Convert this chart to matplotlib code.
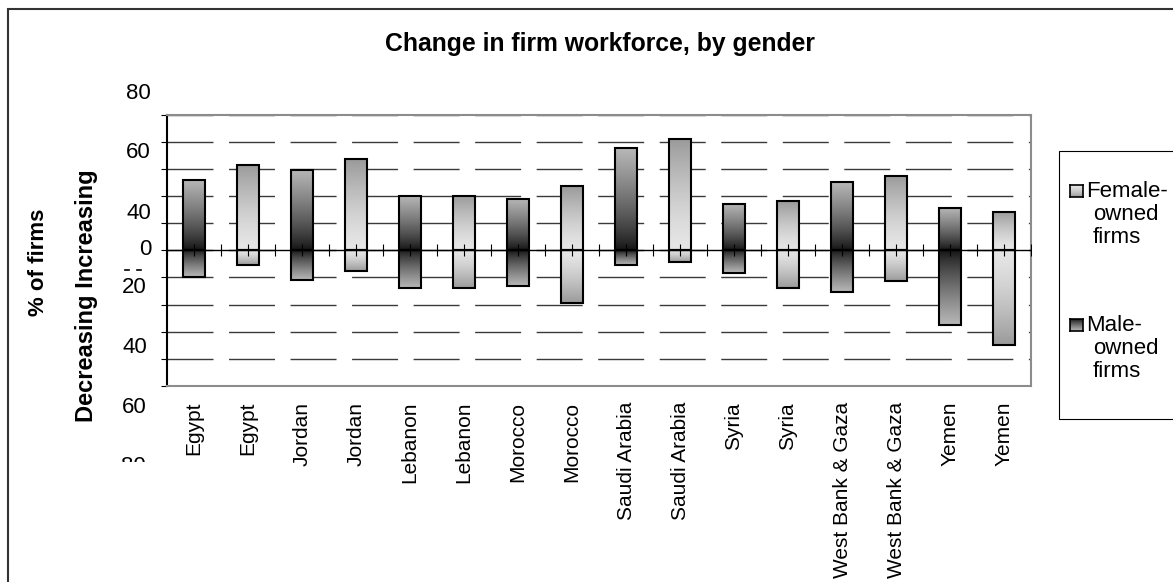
import numpy as np
import matplotlib
matplotlib.use("Agg")
import matplotlib.pyplot as plt
from matplotlib.colors import LinearSegmentedColormap
from matplotlib.patches import Rectangle
from matplotlib.lines import Line2D

plt.rcParams['font.family'] = ['Liberation Sans', 'DejaVu Sans']

# data: % of firms with increasing / decreasing workforce
countries = ["Egypt", "Egypt", "Jordan", "Jordan", "Lebanon", "Lebanon",
             "Morocco", "Morocco", "Saudi Arabia", "Saudi Arabia", "Syria", "Syria",
             "West Bank & Gaza", "West Bank & Gaza", "Yemen", "Yemen"]
owner = ["male", "female"] * 8
increasing = [52, 63, 59, 67, 40, 40, 38, 47, 75, 82, 34, 36, 50, 55, 31, 28]
decreasing = [20, 11, 22, 15, 28, 28, 26, 39, 11, 9, 17, 28, 31, 23, 55, 70]

# the odd, misplaced axis labels of the original chart
ytick_text = ["80", "60", "40", "0", "20", "40", "60"]
ytick_ypx = [93.5, 153, 213.5, 249.5, 287.5, 347.5, 407.5]
ytick_xpx = [151, 151, 151, 151, 147, 147, 147]

legend_labels = [["Female-", "owned", "firms"], ["Male-", "owned", "firms"]]

W, H = 1173, 582


def fx(px):
    return px / W


def fy(py):
    return 1 - py / H


cmaps = {
    "male": LinearSegmentedColormap.from_list("male", ["#121212", "#b8b8b8"]),
    "female": LinearSegmentedColormap.from_list("female", ["#e6e6e6", "#9a9a9a"]),
}
powers = {"male": 0.8, "female": 1.4}

fig = plt.figure(figsize=(W / 100, H / 100), dpi=100)
ax = fig.add_axes([fx(167), fy(386), (1031 - 167) / W, (386 - 114.5) / H])

x = np.arange(len(countries))
width = 0.42
ramp = np.linspace(0, 1, 256).reshape(-1, 1)

up = ax.bar(x, increasing, width, facecolor="none", edgecolor="black", lw=1.5, zorder=3)
down = ax.bar(x, [-d for d in decreasing], width, facecolor="none", edgecolor="black", lw=1.5, zorder=3)

for i in range(len(countries)):
    t = ramp ** powers[owner[i]]
    l, r = x[i] - width / 2, x[i] + width / 2
    im = ax.imshow(t, extent=[l, r, 0, increasing[i]], origin="lower", cmap=cmaps[owner[i]],
                   vmin=0, vmax=1, aspect="auto", interpolation="bilinear", zorder=2)
    im.set_clip_path(up[i])
    im = ax.imshow(t[::-1], extent=[l, r, -decreasing[i], 0], origin="lower", cmap=cmaps[owner[i]],
                   vmin=0, vmax=1, aspect="auto", interpolation="bilinear", zorder=2)
    im.set_clip_path(down[i])

# zero line with tick marks
ax.axhline(0, color="black", lw=1.0, zorder=4)
marks = np.arange(-0.5, len(countries) - 0.49, 0.5)
ax.plot(marks, np.zeros_like(marks), ls="none", marker="|", ms=8.6, mew=0.8, color="black", zorder=5)

ax.set_xlim(-0.5, len(countries) - 0.5)
ax.set_ylim(-100, 100)
ax.set_yticks(np.arange(-100, 101, 20))
ax.yaxis.grid(True, linestyle=(0, (33.1, 11.2)), color="#3a3a3a", lw=1.0)
ax.set_axisbelow(True)
ax.tick_params(axis="y", length=4.3, width=0.8, color="black", labelleft=False)

ax.set_xticks(x)
ax.set_xticklabels(countries, rotation=90, fontsize=15, va="top", ha="center")
ax.tick_params(axis="x", length=0, pad=11.5)

for side in ["top", "right", "bottom"]:
    ax.spines[side].set_color("#8c8c8c")
    ax.spines[side].set_linewidth(1.5)
ax.spines["left"].set_color("black")
ax.spines["left"].set_linewidth(1.5)

# y tick labels as they sit in the original
for lab, ypx, xpx in zip(ytick_text, ytick_ypx, ytick_xpx):
    fig.text(fx(xpx), fy(ypx), lab, ha="right", va="center", fontsize=16)

# remnants of a clipped label just under the 0
for x0, x1 in [(125, 128.5), (137, 140.5)]:
    fig.add_artist(Line2D([fx(x0), fx(x1)], [fy(270), fy(270)], transform=fig.transFigure,
                          color="black", lw=1.2))

# bottom label cut off by the chart's edge
t = fig.text(fx(146), fy(472), "80", ha="right", va="baseline", fontsize=16)
clip = Rectangle((fx(110), fy(462)), 50 / W, 7 / H, transform=fig.transFigure,
                 facecolor="none", edgecolor="none")
fig.add_artist(clip)
t.set_clip_path(clip)

fig.text(fx(39), fy(262), "% of firms", rotation=90, ha="center", va="center",
         fontsize=16, fontweight="bold")
fig.text(fx(87), fy(296), "Decreasing Increasing", rotation=90, ha="center", va="center",
         fontsize=17, fontweight="bold")

fig.text(fx(600), fy(51), "Change in firm workforce, by gender", ha="center", va="baseline",
         fontsize=17.8, fontweight="bold")

# outer chart frame
fig.add_artist(Rectangle((fx(8), fy(600)), (1200 - 8) / W, (600 - 9) / H, transform=fig.transFigure,
                         facecolor="none", edgecolor="#333333", lw=1.5, clip_on=False))

# legend
fig.add_artist(Rectangle((fx(1059), fy(419)), (1190 - 1059) / W, (419 - 151) / H,
                         transform=fig.transFigure, facecolor="white", edgecolor="black",
                         lw=0.8, clip_on=False, zorder=1))
for key, lines, top in [("female", legend_labels[0], 185), ("male", legend_labels[1], 319)]:
    mk = fig.add_axes([fx(1070), fy(top + 12), 13 / W, 12 / H])
    mk.set_zorder(5)
    mk.imshow(np.linspace(0, 1, 64).reshape(-1, 1) ** powers[key], cmap=cmaps[key],
              vmin=0, vmax=1, aspect="auto", origin="upper")
    mk.set_xticks([])
    mk.set_yticks([])
    for s in mk.spines.values():
        s.set_linewidth(1.2)
        s.set_color("black")
    base = top + 12
    for j, line in enumerate(lines):
        xl = 1086 if j == 0 else 1093
        fig.text(fx(xl), fy(base + 23 * j), line, ha="left", va="baseline", fontsize=16, zorder=6)

fig.savefig("out.png", dpi=100)
